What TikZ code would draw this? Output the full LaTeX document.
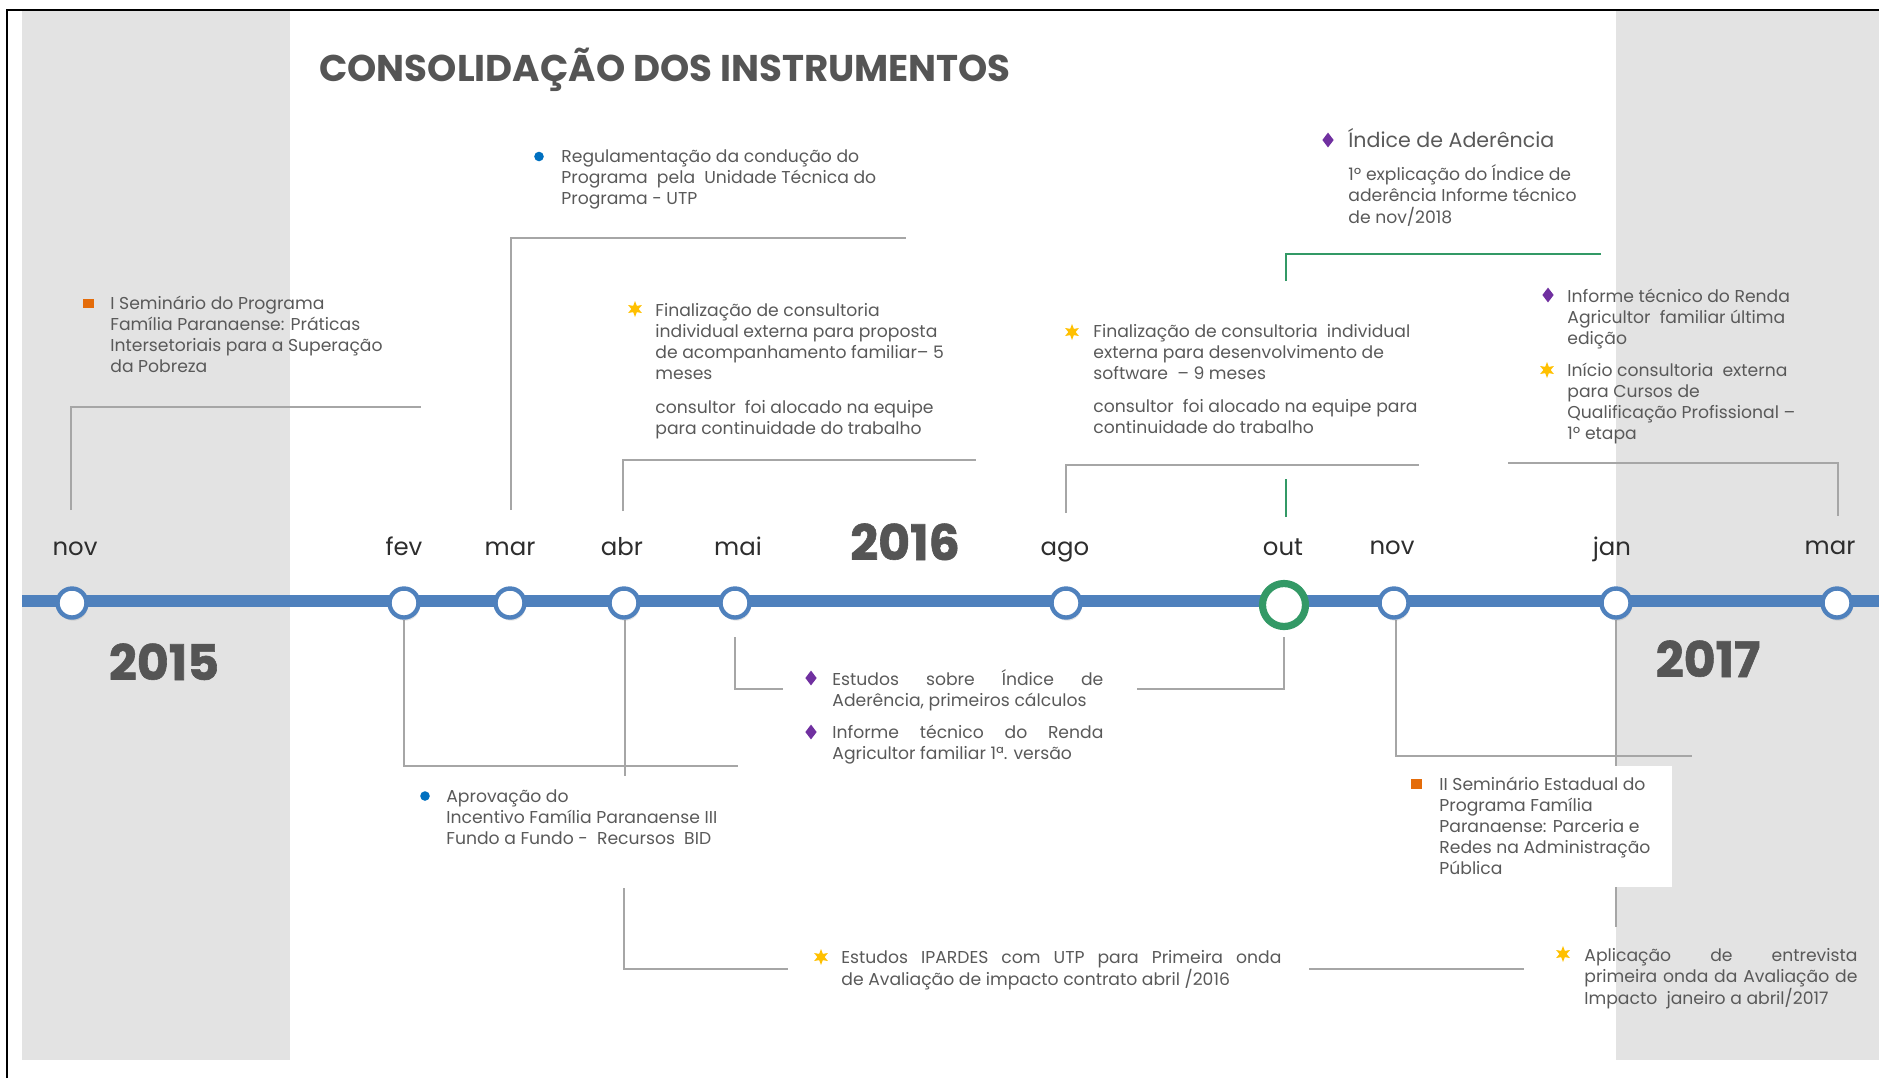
\documentclass[tikz,border=0pt]{standalone}
\usepackage{fontspec}
\setmainfont{Poppins}
\usetikzlibrary{shapes.geometric,shadows}
\definecolor{band}{RGB}{227,227,227}
\definecolor{tl}{RGB}{79,129,189}
\definecolor{grn}{RGB}{51,153,102}
\definecolor{connc}{RGB}{166,166,166}
\definecolor{txt}{RGB}{89,89,89}
\definecolor{ttl}{RGB}{85,85,85}
\definecolor{mon}{RGB}{45,45,45}
\definecolor{orng}{RGB}{228,108,10}
\definecolor{blu}{RGB}{0,112,192}
\definecolor{yel}{RGB}{255,192,0}
\definecolor{pur}{RGB}{112,48,160}
\newcommand\mlines[1]{\begin{tabular}[t]{@{}l@{}}#1\end{tabular}}
\begin{document}
\begin{tikzpicture}[x=0.5pt,y=-0.5pt,
  conn/.style={draw=connc, line width=1.3pt},
  gconn/.style={draw=grn, line width=1.3pt},
  evt/.style={circle, draw=tl, line width=2.2pt, fill=white, minimum size=14.5pt, inner sep=0,
    drop shadow={shadow xshift=0.6pt, shadow yshift=-1.6pt, opacity=0.22}},
  bigevt/.style={circle, draw=grn, line width=3.6pt, fill=white, minimum size=21.5pt, inner sep=0,
    drop shadow={shadow xshift=0.6pt, shadow yshift=-1.6pt, opacity=0.22}},
  month/.style={font=\fontsize{12.2}{14}\selectfont, text=mon, inner sep=0, anchor=base},
  yr/.style={font=\bfseries\fontsize{24.5}{26}\selectfont\addfontfeature{FakeBold=1.2}, text=ttl, inner sep=0, anchor=base},
  txtb/.style={font=\fontsize{8.6}{10.5}\selectfont, text=txt, inner sep=0, anchor=base west},
  bigtxt/.style={font=\fontsize{10.3}{13}\selectfont, text=txt, inner sep=0, anchor=base west},
  bsq/.style={rectangle, fill=orng, minimum width=5.5pt, minimum height=4.6pt, inner sep=0},
  bdot/.style={circle, fill=blu, minimum size=4.8pt, inner sep=0},
  bstar/.style={star, star points=6, star point ratio=2.2, fill=yel, minimum size=8pt, inner sep=0},
  bdia/.style={diamond, fill=pur, minimum width=5.8pt, minimum height=7.6pt, inner sep=0}]
\useasboundingbox (0,0) rectangle (1879,1078);
% background bands
\fill[band] (22,10) rectangle (290,1060);
\fill[band] (1616,10) rectangle (1879,1060);
% frame
\draw[black, line width=1pt] (7,1078) -- (7,10) -- (1879,10);

% title
\node[font=\bfseries\fontsize{18.6}{21}\selectfont, text=ttl, inner sep=0, anchor=base west] (title) at (319,81) {CONSOLIDAÇÃO DOS INSTRUMENTOS};

% timeline bar
\coordinate (barL) at (22,601);
\coordinate (barR) at (1879,601);
\draw[tl, line width=5.6pt] (barL) -- (barR);

% connector coordinates
\coordinate (a1) at (71,510);   \coordinate (a2) at (71,407);   \coordinate (a3) at (421,407);
\coordinate (b1) at (511,510);  \coordinate (b2) at (511,238);  \coordinate (b3) at (906,238);
\coordinate (c1) at (623,511);  \coordinate (c2) at (623,460);  \coordinate (c3) at (976,460);
\coordinate (d1) at (1066,513); \coordinate (d2) at (1066,465); \coordinate (d3) at (1419,465);
\coordinate (e1) at (1286,517); \coordinate (e2) at (1286,479);
\coordinate (f1) at (1286,281); \coordinate (f2) at (1286,254); \coordinate (f3) at (1601,254);
\coordinate (g1) at (1508,463); \coordinate (g2) at (1838,463); \coordinate (g3) at (1838,516);
\coordinate (h1) at (404,620);  \coordinate (h2) at (404,766);  \coordinate (h3) at (738,766);
\coordinate (i1) at (625,620);  \coordinate (i2) at (625,776);
\coordinate (j1) at (624,888);  \coordinate (j2) at (624,969);  \coordinate (j3) at (788,969);
\coordinate (k1) at (1309,969); \coordinate (k2) at (1524,969);
\coordinate (l1) at (1616,620); \coordinate (l2) at (1616,927);
\coordinate (m1) at (735,637);  \coordinate (m2) at (735,689);  \coordinate (m3) at (783,689);
\coordinate (n1) at (1284,637); \coordinate (n2) at (1284,689); \coordinate (n3) at (1137,689);
\coordinate (o1) at (1396,620); \coordinate (o2) at (1396,756); \coordinate (o3) at (1692,756);

% connectors
\draw[conn] (a1) -- (a2) -- (a3);
\draw[conn] (b1) -- (b2) -- (b3);
\draw[conn] (c1) -- (c2) -- (c3);
\draw[conn] (d1) -- (d2) -- (d3);
\draw[gconn] (e1) -- (e2);
\draw[gconn] (f1) -- (f2) -- (f3);
\draw[conn] (g1) -- (g2) -- (g3);
\draw[conn] (h1) -- (h2) -- (h3);
\draw[conn] (i1) -- (i2);
\draw[conn] (j1) -- (j2) -- (j3);
\draw[conn] (k1) -- (k2);
\draw[conn] (l1) -- (l2);
\draw[conn] (m1) -- (m2) -- (m3);
\draw[conn] (n1) -- (n2) -- (n3);
\draw[conn] (o1) -- (o2) -- (o3);

% white box behind II Seminario
\fill[white] (1400,766) rectangle (1672,887);

% events
\node[evt] (nov15) at (72,603) {};
\node[evt] (fev) at (404,603) {};
\node[evt] (mar16) at (510,603) {};
\node[evt] (abr) at (624,603) {};
\node[evt] (mai) at (735,603) {};
\node[evt] (ago) at (1066,603) {};
\node[bigevt] (out) at (1284,605) {};
\node[evt] (nov16) at (1394,603) {};
\node[evt] (jan) at (1616,603) {};
\node[evt] (mar17) at (1837,603) {};

% month labels
\node[month] (lnov15) at (75,555) {nov};
\node[month] (lfev) at (404,555) {fev};
\node[month] (lmar16) at (510,555) {mar};
\node[month] (labr) at (622,555) {abr};
\node[month] (lmai) at (738,555) {mai};
\node[month] (lago) at (1065,555) {ago};
\node[month] (lout) at (1283,555) {out};
\node[month] (lnov16) at (1392,554) {nov};
\node[month] (ljan) at (1612,555) {jan};
\node[month] (lmar17) at (1830,554) {mar};

% years
\node[yr] (y15) at (164,680) {2015};
\node[yr] (y16) at (905,560) {2016};
\node[yr] (y17) at (1708,677) {2017};

% texts above
\node[bsq] (sqA) at (88.5,303.5) {};
\node[txtb] (tA) at (110,309) {\mlines{I Seminário do Programa\\Família Paranaense: Práticas\\Intersetoriais para a Superação\\da Pobreza}};

\node[bdot] (dtB) at (539,156.5) {};
\node[txtb] (tB) at (561,162) {\mlines{Regulamentação da condução do\\Programa\ \ pela\ \ Unidade Técnica do\\Programa - UTP}};

\node[bstar] (stC) at (635,309) {};
\node[txtb] (tC) at (655,316) {\mlines{Finalização de consultoria\\individual externa para proposta\\de acompanhamento familiar– 5\\meses}};
\node[txtb] (tC2) at (655,413) {\mlines{consultor\ \ foi alocado na equipe\\para continuidade do trabalho}};

\node[bstar] (stD) at (1072,332) {};
\node[txtb] (tD) at (1093,337) {\mlines{Finalização de consultoria\ \ individual\\externa para desenvolvimento de\\software\ \ – 9 meses}};
\node[txtb] (tD2) at (1093,412) {\mlines{consultor\ \ foi alocado na equipe para\\continuidade do trabalho}};

\node[bdia] (diE) at (1328,140) {};
\node[bigtxt] (tE) at (1348,147) {Índice de Aderência};
\node[txtb] (tE2) at (1348,180) {\mlines{1º explicação do Índice de\\aderência Informe técnico\\de nov/2018}};

\node[bdia] (diF) at (1548,295) {};
\node[txtb] (tF) at (1567,302) {\mlines{Informe técnico do Renda\\Agricultor\ \ familiar última\\edição}};
\node[bstar] (stF) at (1547,370) {};
\node[txtb] (tF2) at (1567,376) {\mlines{Início consultoria\ \ externa\\para Cursos de\\Qualificação Profissional –\\1º etapa}};

% texts below
\node[bdot] (dtG) at (425,796) {};
\node[txtb] (tG) at (446,802) {\mlines{Aprovação do\\Incentivo Família Paranaense III\\Fundo a Fundo -\ \ Recursos\ \ BID}};

\node[bdia] (diH) at (811,678) {};
\node[txtb] (tH) at (832,685) {\mlines{\makebox[135.5pt][s]{Estudos sobre Índice de}\\Aderência, primeiros cálculos}};
\node[bdia] (diH2) at (811,732) {};
\node[txtb] (tH2) at (832,738) {\mlines{\makebox[135.5pt][s]{Informe técnico do Renda}\\Agricultor familiar 1ª. versão}};

\node[bstar] (stI) at (821,957) {};
\node[txtb] (tI) at (841,963) {\mlines{\makebox[220pt][s]{Estudos IPARDES com UTP para Primeira onda}\\de Avaliação de impacto contrato abril /2016}};

\node[bstar] (stJ) at (1563,954) {};
\node[txtb] (tJ) at (1584,961) {\mlines{\makebox[136.5pt][s]{Aplicação de entrevista}\\\makebox[136.5pt][s]{primeira onda da Avaliação de}\\Impacto\ \ janeiro a abril/2017}};

\node[bsq] (sqK) at (1416,784) {};
\node[txtb] (tK) at (1439,790) {\mlines{II Seminário Estadual do\\Programa Família\\Paranaense: Parceria e\\Redes na Administração\\Pública}};
\end{tikzpicture}
\end{document}
